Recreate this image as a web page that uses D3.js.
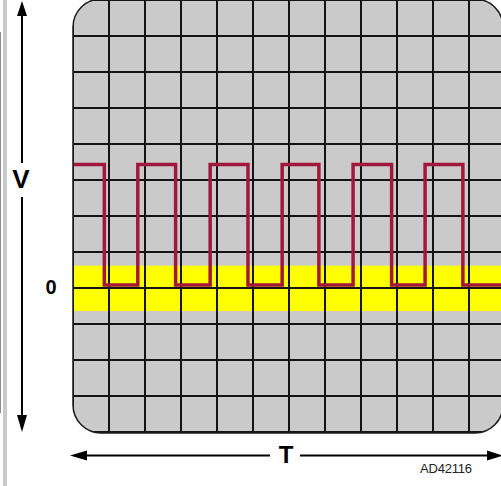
<!DOCTYPE html>
<html>
<head>
<meta charset="utf-8">
<script src="https://cdn.jsdelivr.net/npm/d3@7"></script>
<style>
  html, body { margin: 0; padding: 0; background: #ffffff; }
  svg { display: block; }
</style>
</head>
<body>
<svg id="chart" width="501" height="486"></svg>
<script>
// ---- data ----
const timeDivisions = [0, 1, 2, 3, 4, 5, 6, 7, 8, 9, 10, 11, 12];
const voltDivisions = [-4, -3, -2, -1, 0, 1, 2, 3, 4, 5, 6, 7, 8];
// square-wave transition times (in divisions) and the level after each
const edgeTimes  = [0, 0.87, 1.80, 2.85, 3.81, 4.86, 5.81, 6.83, 7.78, 8.85, 9.78, 10.83, 12];
const edgeLevels = [3.43, 0.08, 3.43, 0.08, 3.43, 0.08, 3.43, 0.08, 3.43, 0.08, 3.43, 0.08, 0.08];
const zeroBand = [-0.64, 0.62];
const axisLabels = { v: "V", zero: "0", t: "T", code: "AD42116" };

// ---- layout ----
const svg = d3.select("#chart");
const x = d3.scaleLinear().domain([0, 12]).range([73, 505]);
const y = d3.scaleLinear().domain([-4, 8]).range([432, 0]);

// left page margin strip
svg.append("rect").attr("x", 3).attr("y", 0).attr("width", 4).attr("height", 486).attr("fill", "#c9c9c9");
svg.append("line").attr("x1", 0.5).attr("x2", 0.5).attr("y1", 32).attr("y2", 413)
   .attr("stroke", "#8a8a8a").attr("stroke-width", 1);

// screen
const scrX0 = 73, scrX1 = 503, scrY0 = -1, scrY1 = 433, r = 28;
const defs = svg.append("defs");
defs.append("clipPath").attr("id", "scr").append("rect")
  .attr("x", scrX0).attr("y", scrY0).attr("width", scrX1 - scrX0).attr("height", scrY1 - scrY0)
  .attr("rx", r).attr("ry", r);

const screen = svg.append("g").attr("clip-path", "url(#scr)");
screen.append("rect")
  .attr("x", scrX0).attr("y", scrY0).attr("width", scrX1 - scrX0).attr("height", scrY1 - scrY0)
  .attr("fill", "#cacaca");

// yellow zero band
screen.append("rect")
  .attr("x", scrX0).attr("width", scrX1 - scrX0)
  .attr("y", y(zeroBand[1])).attr("height", y(zeroBand[0]) - y(zeroBand[1]))
  .attr("fill", "#ffff00");

// grid
screen.selectAll("line.v").data(timeDivisions).join("line")
  .attr("class", "v")
  .attr("x1", d => x(d)).attr("x2", d => x(d))
  .attr("y1", scrY0).attr("y2", scrY1)
  .attr("stroke", "#141414").attr("stroke-width", 2);
screen.selectAll("line.h").data(voltDivisions).join("line")
  .attr("class", "h")
  .attr("x1", scrX0).attr("x2", scrX1)
  .attr("y1", d => y(d)).attr("y2", d => y(d))
  .attr("stroke", "#141414").attr("stroke-width", 2);

// waveform
const wave = d3.line()
  .x(d => x(d[0])).y(d => y(d[1]))
  .curve(d3.curveStepAfter);
screen.append("path")
  .datum(edgeTimes.map((t, i) => [t, edgeLevels[i]]))
  .attr("d", wave)
  .attr("fill", "none")
  .attr("stroke", "#a3173d")
  .attr("stroke-width", 3.5)
  .attr("stroke-linejoin", "miter");

// screen outline (left & bottom solid edges, rounded corners)
svg.append("rect")
  .attr("x", scrX0).attr("y", scrY0).attr("width", scrX1 - scrX0).attr("height", scrY1 - scrY0)
  .attr("rx", r).attr("ry", r)
  .attr("fill", "none").attr("stroke", "#1a1a1a").attr("stroke-width", 1.5);

// ---- axes arrows ----
const ax = svg.append("g");
const vx = 22;
ax.append("line").attr("x1", vx).attr("x2", vx).attr("y1", 10).attr("y2", 163)
  .attr("stroke", "#000").attr("stroke-width", 2);
ax.append("line").attr("x1", vx).attr("x2", vx).attr("y1", 197).attr("y2", 420)
  .attr("stroke", "#000").attr("stroke-width", 2);
ax.append("path").attr("d", `M${vx},1 L${vx + 5},16 L${vx - 5},16 Z`).attr("fill", "#000");
ax.append("path").attr("d", `M${vx},432 L${vx + 5},415 L${vx - 5},415 Z`).attr("fill", "#000");

const hy = 455.5;
ax.append("line").attr("x1", 80).attr("x2", 270).attr("y1", hy).attr("y2", hy)
  .attr("stroke", "#000").attr("stroke-width", 2);
ax.append("line").attr("x1", 300).attr("x2", 492).attr("y1", hy).attr("y2", hy)
  .attr("stroke", "#000").attr("stroke-width", 2);
ax.append("path").attr("d", `M70,${hy} L87,${hy - 5} L87,${hy + 5} Z`).attr("fill", "#000");
ax.append("path").attr("d", `M503,${hy} L487,${hy - 5} L487,${hy + 5} Z`).attr("fill", "#000");

// ---- labels ----
const font = "'Liberation Sans', Arial, sans-serif";
svg.append("text").text(axisLabels.v)
  .attr("x", 21).attr("y", 188).attr("text-anchor", "middle")
  .attr("font-family", font).attr("font-weight", "bold").attr("font-size", 26);
svg.append("text").text(axisLabels.zero)
  .attr("x", 51).attr("y", 294).attr("text-anchor", "middle")
  .attr("font-family", font).attr("font-weight", "bold").attr("font-size", 20);
svg.append("text").text(axisLabels.t)
  .attr("x", 286).attr("y", 463).attr("text-anchor", "middle")
  .attr("font-family", font).attr("font-weight", "bold").attr("font-size", 24);
svg.append("text").text(axisLabels.code)
  .attr("x", 420).attr("y", 473)
  .attr("font-family", font).attr("font-size", 13).attr("fill", "#222")
  .attr("letter-spacing", -0.2);
</script>
</body>
</html>
